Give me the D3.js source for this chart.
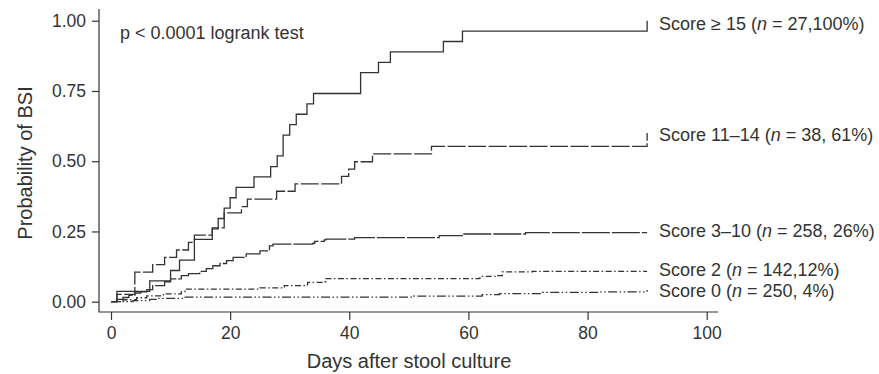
<!DOCTYPE html>
<html>
<head>
<meta charset="utf-8">
<script src="https://cdn.jsdelivr.net/npm/d3@7/dist/d3.min.js"></script>
<style>
  html, body { margin: 0; padding: 0; background: #fff; }
  svg { display: block; font-family: "Liberation Sans", Arial, Helvetica, sans-serif; }
</style>
</head>
<body>
<svg id="chart" width="879" height="374"></svg>
<script>
// ---- data (days after stool culture, cumulative probability of BSI) ----
const ge15Days  = [0, 1, 6.5, 10, 11.5, 14, 17, 18, 19, 20, 21, 24, 26.8, 27.9, 28.9, 30, 31.1, 32.9, 34, 41.9, 44.9, 46.9, 55.8, 59, 90];
const ge15Prob  = [0, 0.037, 0.074, 0.111, 0.148, 0.222, 0.259, 0.296, 0.333, 0.370, 0.407, 0.444, 0.481, 0.519, 0.593, 0.630, 0.667, 0.704, 0.741, 0.815, 0.852, 0.889, 0.926, 0.963, 1.0];

const s1114Days = [0, 1, 4, 7, 9, 11, 13, 14, 17, 19, 21.9, 22.9, 27.8, 30.9, 38.7, 39.9, 40.9, 43.9, 53.8, 90];
const s1114Prob = [0, 0.026, 0.105, 0.132, 0.158, 0.184, 0.211, 0.237, 0.263, 0.316, 0.338, 0.365, 0.393, 0.419, 0.446, 0.472, 0.498, 0.526, 0.553, 0.600];

const s310Days  = [0, 1, 2, 3, 4, 5, 6, 7, 9, 10, 11.8, 13, 14.9, 16, 17.1, 18.3, 19.4, 20.5, 22.7, 25, 26.6, 27.2, 33.9, 34.2, 35.8, 36.1, 40.9, 55.1, 59, 69.6, 90];
const s310Prob  = [0, 0.008, 0.015, 0.023, 0.031, 0.035, 0.043, 0.057, 0.071, 0.081, 0.093, 0.100, 0.108, 0.118, 0.128, 0.136, 0.146, 0.158, 0.170, 0.181, 0.199, 0.205, 0.208, 0.215, 0.220, 0.223, 0.228, 0.235, 0.241, 0.246, 0.246];

const s2Days    = [0, 2, 4.3, 6, 8.8, 11.8, 12.4, 25, 29.1, 32.8, 33, 35.6, 36.1, 61.8, 62.1, 64.9, 65.7, 70.7, 90];
const s2Prob    = [0, 0.007, 0.014, 0.021, 0.028, 0.035, 0.045, 0.049, 0.057, 0.060, 0.069, 0.071, 0.082, 0.084, 0.090, 0.093, 0.106, 0.108, 0.108];

const s0Days    = [0, 3.7, 6.5, 8, 12, 50.8, 62.3, 65.2, 72.4, 82, 90];
const s0Prob    = [0, 0.004, 0.008, 0.012, 0.016, 0.020, 0.025, 0.029, 0.033, 0.035, 0.042];

const seriesNames  = ["Score ≥ 15", "Score 11–14", "Score 3–10", "Score 2", "Score 0"];
const seriesN      = ["27,100%)", "38, 61%)", "258, 26%)", "142,12%)", "250, 4%)"];

const xTicks = [0, 20, 40, 60, 80, 100];
const yTicks = [0, 0.25, 0.5, 0.75, 1.0];
const xTitle = "Days after stool culture";
const yTitle = "Probability of BSI";
const annotation = "p < 0.0001 logrank test";

// ---- layout ----
const svg = d3.select("#chart");
const ink = "#333";
const x = d3.scaleLinear().domain([0, 100]).range([111, 706.7]);
const y = d3.scaleLinear().domain([0, 1]).range([301.7, 20.7]);
const frameLeft = 99, frameRight = 718, frameTop = 9, frameBottom = 312;

// frame (L-shaped)
svg.append("path")
  .attr("d", `M${frameLeft},${frameTop}V${frameBottom}H${frameRight}`)
  .attr("fill", "none").attr("stroke", ink).attr("stroke-width", 1.2);

// y axis
const yAxis = d3.axisLeft(y).tickValues(yTicks).tickFormat(d3.format(".2f")).tickSize(7).tickPadding(6);
const gy = svg.append("g").attr("transform", `translate(${frameLeft},0)`).call(yAxis);
gy.select(".domain").remove();
gy.selectAll("line").attr("stroke", ink).attr("stroke-width", 1.2);
gy.selectAll("text").attr("fill", ink).style("font-size", "17.5px").attr("font-family", null);

// x axis
const xAxis = d3.axisBottom(x).tickValues(xTicks).tickFormat(d3.format("d")).tickSize(8).tickPadding(7);
const gx = svg.append("g").attr("transform", `translate(0,${frameBottom})`).call(xAxis);
gx.select(".domain").remove();
gx.selectAll("line").attr("stroke", ink).attr("stroke-width", 1.2);
gx.selectAll("text").attr("fill", ink).style("font-size", "17.5px").attr("font-family", null);

// titles
svg.append("text").attr("x", 409).attr("y", 368).attr("text-anchor", "middle")
  .attr("fill", ink).style("font-size", "20px").text(xTitle);
svg.append("text").attr("transform", "translate(32,163) rotate(-90)").attr("text-anchor", "middle")
  .attr("fill", ink).style("font-size", "20px").text(yTitle);
svg.append("text").attr("x", 120).attr("y", 39).attr("fill", ink)
  .style("font-size", "18px").text(annotation);

// curves
const series = [
  { days: ge15Days,  prob: ge15Prob,  dash: null,                 labelY: 30 },
  { days: s1114Days, prob: s1114Prob, dash: "18,2.5",             labelY: 141 },
  { days: s310Days,  prob: s310Prob,  dash: "28,2",               labelY: 237 },
  { days: s2Days,    prob: s2Prob,    dash: "6,2.5,1.5,2.5",      labelY: 276 },
  { days: s0Days,    prob: s0Prob,    dash: "9,2.5,1.5,2.5,1.5,2.5", labelY: 297 }
];

const line = d3.line().x(d => x(d[0])).y(d => y(d[1])).curve(d3.curveStepAfter);

series.forEach((s, i) => {
  const pts = s.days.map((d, j) => [d, s.prob[j]]);
  svg.append("path")
    .attr("d", line(pts))
    .attr("fill", "none")
    .attr("stroke", ink)
    .attr("stroke-width", 1.3)
    .attr("stroke-dasharray", s.dash);

  const t = svg.append("text").attr("x", 659).attr("y", s.labelY)
    .attr("fill", ink).style("font-size", "18px");
  t.append("tspan").text(seriesNames[i] + " (");
  t.append("tspan").attr("font-style", "italic").text("n");
  t.append("tspan").text(" = " + seriesN[i]);
});
</script>
</body>
</html>
